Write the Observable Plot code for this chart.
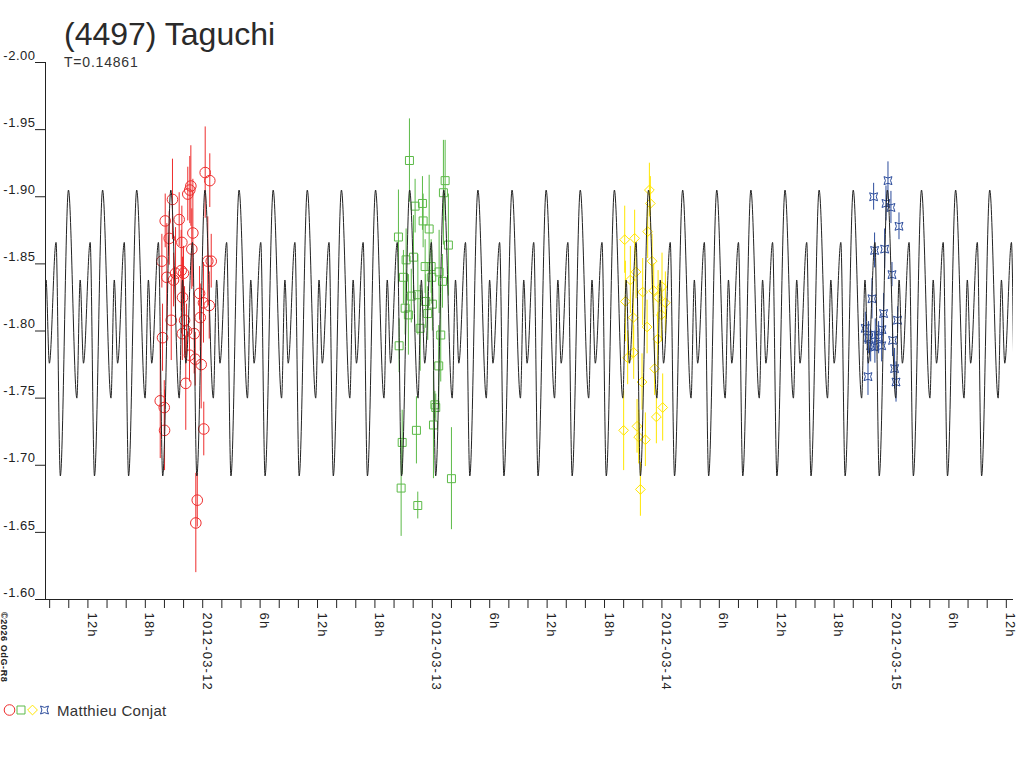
<!DOCTYPE html>
<html>
<head>
<meta charset="utf-8">
<script src="https://cdn.jsdelivr.net/npm/d3@7"></script>
<script src="https://cdn.jsdelivr.net/npm/@observablehq/plot@0.6"></script>
<style>
  body { margin: 0; background: #fff; }
  #chart { width: 1024px; height: 768px; }
</style>
</head>
<body>
<div id="chart"></div>
<script>
// ---- Data (hours since 2012-03-12 00:00 UT, magnitude, error) ----
const baseDate = Date.UTC(2012, 2, 12);
const period = 0.14861; // days
const modelEpochHours = 3.8; // a maximum of the model lightcurve
// one period of the model lightcurve, phase measured from the main maximum
const modelPhase = [0, 0.246, 0.343, 0.44, 0.636, 0.762];
const modelMag   = [-1.905, -1.750, -1.838, -1.776, -1.866, -1.692];

const redHours = [-4.44,-4.02,-3.99,-4.27,-4.20,-3.92,-3.75,-3.50,-3.29,-3.16,-3.05,-2.84,-2.46,-2.25,-2.18,-2.13,-2.11,-2.01,-1.90,-1.77,-1.69,-1.56,-1.38,-1.35,-1.24,-1.14,-1.03,-0.89,-0.78,-0.72,-0.57,-0.33,-0.26,-0.16,0.08,0.11,0.26,0.53,0.68,0.74,0.89];
const redMag = [-1.748,-1.743,-1.726,-1.852,-1.795,-1.882,-1.840,-1.869,-1.808,-1.898,-1.838,-1.843,-1.883,-1.845,-1.866,-1.798,-1.825,-1.843,-1.808,-1.761,-1.800,-1.902,-1.782,-1.905,-1.908,-1.861,-1.873,-1.798,-1.779,-1.657,-1.674,-1.828,-1.810,-1.775,-1.821,-1.727,-1.918,-1.852,-1.819,-1.912,-1.852];
const redErr = [0.043,0.020,0.030,0.020,0.025,0.020,0.040,0.020,0.030,0.030,0.020,0.034,0.020,0.030,0.027,0.020,0.030,0.020,0.025,0.035,0.020,0.020,0.020,0.025,0.030,0.030,0.040,0.030,0.020,0.037,0.020,0.020,0.025,0.033,0.030,0.020,0.034,0.033,0.025,0.020,0.020];

const greenHours = [20.46,20.53,20.74,20.85,20.98,21.16,21.26,21.50,21.61,21.80,22.03,22.20,22.34,22.48,22.49,22.73,22.97,23.04,23.25,23.31,23.52,23.67,23.88,23.94,24.01,24.12,24.27,24.36,24.67,24.71,24.88,25.06,25.16,25.34,25.68,26.00];
const greenMag = [-1.870,-1.789,-1.683,-1.717,-1.840,-1.817,-1.853,-1.812,-1.927,-1.826,-1.855,-1.893,-1.726,-1.670,-1.827,-1.802,-1.895,-1.882,-1.848,-1.822,-1.813,-1.876,-1.848,-1.840,-1.820,-1.730,-1.745,-1.743,-1.774,-1.844,-1.797,-1.837,-1.903,-1.912,-1.864,-1.690];
const greenErr = [0.035,0.020,0.036,0.024,0.020,0.020,0.023,0.030,0.031,0.020,0.031,0.020,0.025,0.010,0.030,0.032,0.020,0.020,0.020,0.020,0.020,0.040,0.020,0.020,0.020,0.040,0.010,0.010,0.030,0.031,0.035,0.020,0.039,0.030,0.038,0.038];

const yellowHours = [44.00,44.11,44.18,44.42,44.70,45.00,45.05,45.15,45.30,45.40,45.57,45.75,45.92,45.99,46.27,46.45,46.51,46.69,46.79,46.97,47.14,47.24,47.42,47.56,47.60,47.94,48.01,48.08,48.36];
const yellowMag = [-1.726,-1.868,-1.822,-1.780,-1.838,-1.810,-1.784,-1.869,-1.844,-1.729,-1.721,-1.682,-1.762,-1.829,-1.719,-1.803,-1.874,-1.905,-1.895,-1.852,-1.830,-1.772,-1.736,-1.794,-1.825,-1.812,-1.833,-1.743,-1.821];
const yellowErr = [0.030,0.025,0.030,0.020,0.025,0.030,0.020,0.021,0.020,0.020,0.020,0.020,0.021,0.025,0.020,0.020,0.020,0.020,0.020,0.020,0.020,0.020,0.020,0.020,0.020,0.020,0.025,0.025,0.023];

const blueHours = [69.26,69.54,69.60,69.82,69.96,70.13,70.23,70.26,70.30,70.65,70.97,71.00,71.17,71.28,71.42,71.63,71.94,72.05,72.11,72.32,72.47,72.63,72.78];
const blueMag = [-1.802,-1.766,-1.795,-1.789,-1.824,-1.900,-1.860,-1.788,-1.797,-1.795,-1.789,-1.801,-1.813,-1.861,-1.895,-1.912,-1.892,-1.842,-1.793,-1.772,-1.762,-1.808,-1.878];
const blueErr = [0.012,0.014,0.012,0.012,0.015,0.010,0.013,0.012,0.012,0.012,0.012,0.012,0.015,0.015,0.013,0.014,0.012,0.009,0.012,0.015,0.015,0.010,0.010];

const xDomain = ["2012-03-11T07:34Z", "2012-03-15T12:45Z"];
const yTicks = [-2.00, -1.95, -1.90, -1.85, -1.80, -1.75, -1.70, -1.65, -1.60];
const yTickLabels = ["-2.00", "-1.95", "-1.90", "-1.85", "-1.80", "-1.75", "-1.70", "-1.65", "-1.60"];
const xLabelTimes = ["2012-03-11T12:00Z","2012-03-11T18:00Z","2012-03-12T00:00Z","2012-03-12T06:00Z","2012-03-12T12:00Z","2012-03-12T18:00Z","2012-03-13T00:00Z","2012-03-13T06:00Z","2012-03-13T12:00Z","2012-03-13T18:00Z","2012-03-14T00:00Z","2012-03-14T06:00Z","2012-03-14T12:00Z","2012-03-14T18:00Z","2012-03-15T00:00Z","2012-03-15T06:00Z","2012-03-15T12:00Z"];
const xLabels = ["12h","18h","2012-03-12","6h","12h","18h","2012-03-13","6h","12h","18h","2012-03-14","6h","12h","18h","2012-03-15","6h","12h"];

const sessionColors = ["#ee2d2d", "#5cba48", "#ffe600", "#2c4c9c"];
const observer = "Matthieu Conjat";
const titleText = "(4497) Taguchi";
const subtitleText = "T=0.14861";
const copyrightText = "©2026 OdG-R8";

// ---- Build tables ----
const toDate = h => new Date(baseDate + h * 3600e3);
function rows(hours, mags, errs) {
  return hours.map((h, i) => ({t: toDate(h), mag: mags[i], err: errs[i]}));
}
const red = rows(redHours, redMag, redErr);
const green = rows(greenHours, greenMag, greenErr);
const yellow = rows(yellowHours, yellowMag, yellowErr);
const blue = rows(blueHours, blueMag, blueErr);

const x0 = new Date(xDomain[0]), x1 = new Date(xDomain[1]);
const pHours = period * 24;
const model = [];
const kMin = Math.floor(((x0 - baseDate) / 3600e3 - modelEpochHours) / pHours) - 1;
const kMax = Math.ceil(((x1 - baseDate) / 3600e3 - modelEpochHours) / pHours) + 1;
for (let k = kMin; k <= kMax; k++) {
  modelPhase.forEach((ph, i) => model.push({t: toDate(modelEpochHours + (k + ph) * pHours), mag: modelMag[i]}));
}

const minorTicks = d3.utcHour.every(2).range(x0, x1);
const labelData = xLabelTimes.map((s, i) => ({t: new Date(s), label: xLabels[i]}));

// 4-pointed concave star symbol
const concaveStar = {
  draw(ctx, size) {
    const h = Math.sqrt(size) / 2, c = h * 0.3;
    ctx.moveTo(-h, -h);
    ctx.quadraticCurveTo(0, -c, h, -h);
    ctx.quadraticCurveTo(c, 0, h, h);
    ctx.quadraticCurveTo(0, c, -h, h);
    ctx.quadraticCurveTo(-c, 0, -h, -h);
    ctx.closePath();
  }
};

const errBars = (data, color) => Plot.ruleX(data, {x: "t", y1: d => d.mag - d.err, y2: d => d.mag + d.err, stroke: color, strokeWidth: 1});

const ink = "#222";
const chart = Plot.plot({
  width: 1024,
  height: 768,
  marginLeft: 45,
  marginRight: 11,
  marginTop: 62,
  marginBottom: 169,
  style: {fontFamily: "'Liberation Sans', Arial, sans-serif", fontSize: "13px", color: ink, background: "#fff"},
  x: {type: "utc", domain: [x0, x1]},
  y: {domain: [-2.0, -1.6], reverse: true},
  marks: [
    errBars(red, sessionColors[0]),
    errBars(green, sessionColors[1]),
    errBars(yellow, sessionColors[2]),
    errBars(blue, sessionColors[3]),
    Plot.dot(red, {x: "t", y: "mag", symbol: "circle", r: 5.3, stroke: sessionColors[0], strokeWidth: 1, fill: "none"}),
    Plot.dot(green, {x: "t", y: "mag", symbol: "square", r: 4.5, stroke: sessionColors[1], strokeWidth: 1, fill: "none"}),
    Plot.dot(yellow, {x: "t", y: "mag", symbol: "diamond2", r: 4.4, stroke: sessionColors[2], strokeWidth: 1, fill: "none"}),
    Plot.dot(blue, {x: "t", y: "mag", symbol: concaveStar, r: 4.5, stroke: sessionColors[3], strokeWidth: 1, fill: "none"}),
    Plot.line(model, {x: "t", y: "mag", curve: "monotone-x", stroke: ink, strokeWidth: 1, clip: true}),
    Plot.ruleY([-1.6], {stroke: ink}),
    Plot.ruleX([x0], {stroke: ink}),
    Plot.axisY(yTicks, {tickSize: 10, tickFormat: () => "", stroke: ink, label: null}),
    Plot.axisY(yTicks, {tickSize: 0, tickPadding: 10, dy: -7, tickFormat: d => yTickLabels[yTicks.indexOf(d)], fill: ink, fontSize: 13, label: null}),
    Plot.axisX(minorTicks, {tickSize: 9, tickFormat: () => "", stroke: ink, label: null}),
    Plot.text(labelData, {x: "t", text: "label", frameAnchor: "bottom", dy: 13, rotate: 90, textAnchor: "start", lineAnchor: "bottom", fontSize: 13, fill: ink})
  ]
});

const svg = d3.select(chart);
svg.selectAll('g[aria-label="y-axis tick label"] text').style("letter-spacing", "0.5px");
svg.selectAll('g[aria-label="text"] text').style("letter-spacing", "1.2px");

const ff = "'Liberation Sans', Arial, sans-serif";
const over = svg.append("g").attr("text-anchor", "start").attr("font-family", ff);
over.append("text").attr("x", 64).attr("y", 45).attr("font-size", 32).attr("fill", "#2a2a2a").text(titleText);
over.append("text").attr("x", 64).attr("y", 67).attr("font-size", 14).attr("fill", "#333").style("letter-spacing", "0.8px").text(subtitleText);
over.append("text").attr("transform", "translate(1,612) rotate(90)").attr("font-size", 9).attr("font-weight", "bold").attr("fill", "#222").style("letter-spacing", "0.6px").text(copyrightText);

// legend
const legend = over.append("g").attr("fill", "none").attr("stroke-width", 1);
const legendSymbols = [d3.symbolCircle, d3.symbolSquare, d3.symbolDiamond2, concaveStar];
const legendX = [9.5, 21, 32.5, 44.5];
const legendR = [5.3, 4.5, 4.4, 4.5];
legendSymbols.forEach((s, i) => {
  legend.append("path")
    .attr("transform", `translate(${legendX[i]},710)`)
    .attr("d", d3.symbol(s, Math.PI * legendR[i] * legendR[i])())
    .attr("stroke", sessionColors[i]);
});
over.append("text").attr("x", 57).attr("y", 716).attr("font-size", 15).attr("fill", "#333").style("letter-spacing", "0.3px").text(observer);

document.getElementById("chart").appendChild(chart);
</script>
</body>
</html>
